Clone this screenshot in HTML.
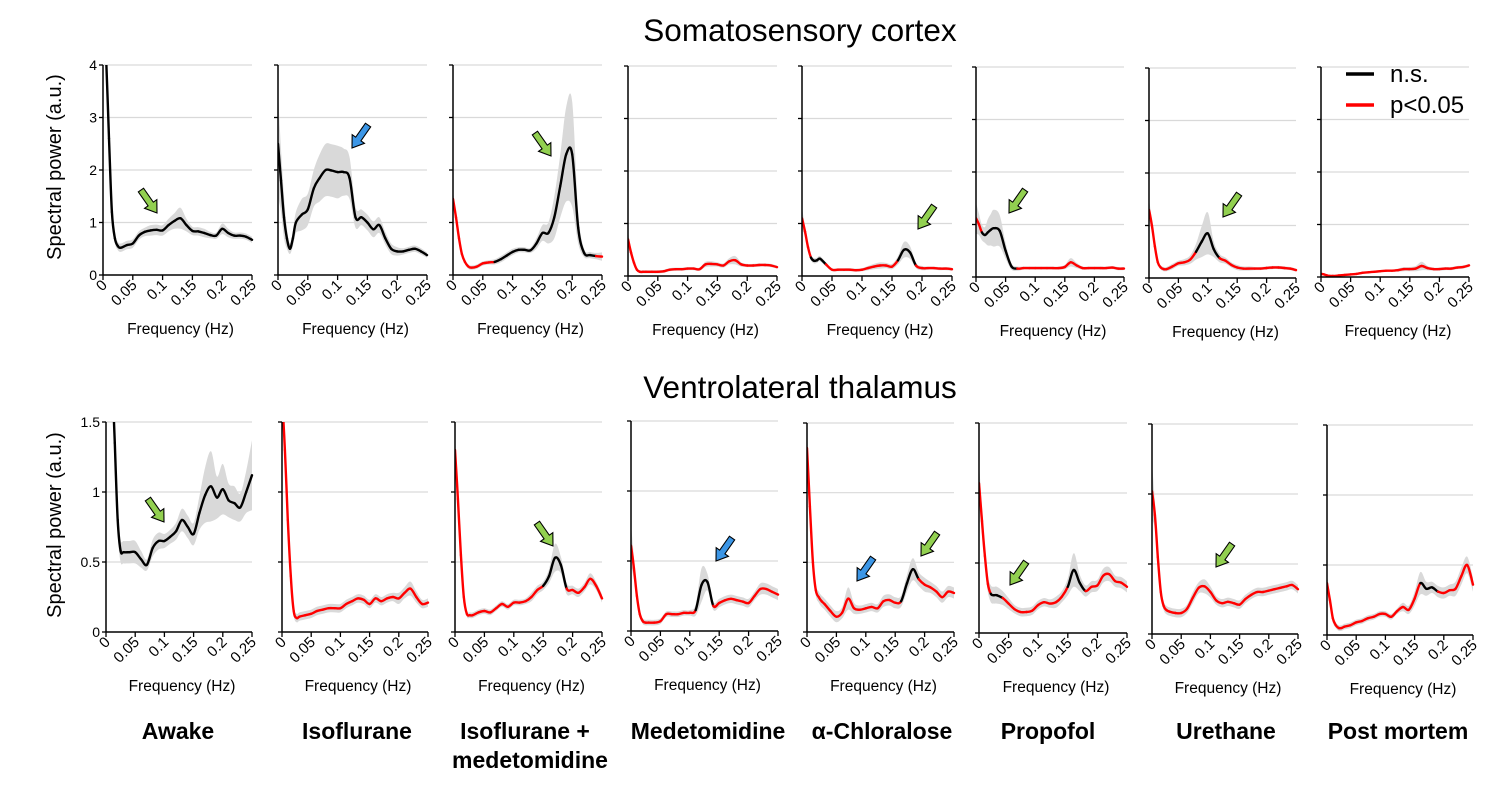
<!DOCTYPE html>
<html><head><meta charset="utf-8">
<style>
body{margin:0;background:#fff;}
svg{display:block;font-family:"Liberation Sans",sans-serif;}
</style></head>
<body>
<svg id="fig" width="1500" height="788" viewBox="0 0 1500 788" xmlns="http://www.w3.org/2000/svg">
<text x="800" y="41" font-size="31.5" text-anchor="middle">Somatosensory cortex</text>
<text x="800" y="398" font-size="31.5" text-anchor="middle">Ventrolateral thalamus</text>
<text transform="translate(61,167) rotate(-90)" font-size="20" text-anchor="middle">Spectral power (a.u.)</text>
<text transform="translate(61,525) rotate(-90)" font-size="20" text-anchor="middle">Spectral power (a.u.)</text>
<g>
<line x1="1346" y1="74" x2="1374" y2="74" stroke="#000" stroke-width="3.5"/>
<text x="1390" y="82" font-size="24">n.s.</text>
<line x1="1346" y1="105" x2="1374" y2="105" stroke="#f00" stroke-width="3.5"/>
<text x="1390" y="113" font-size="24">p&lt;0.05</text>
</g>
<g font-size="23" font-weight="bold" text-anchor="middle">
<text x="178" y="739">Awake</text>
<text x="357" y="739">Isoflurane</text>
<text x="525" y="739">Isoflurane +</text>
<text x="530" y="768">medetomidine</text>
<text x="708" y="739">Medetomidine</text>
<text x="882" y="739">α-Chloralose</text>
<text x="1048" y="739">Propofol</text>
<text x="1226" y="739">Urethane</text>
<text x="1398" y="739">Post mortem</text>
</g>
</svg>
<script>
const freq=[0,.005,.01,.015,.02,.025,.03,.04,.05,.06,.07,.08,.09,.1,.11,.12,.13,.14,.15,.16,.17,.18,.19,.2,.21,.22,.23,.24,.25];
const xTicks=[0,0.05,0.1,0.15,0.2,0.25];
const xTickLabels=["0","0.05","0.1","0.15","0.2","0.25"];
const topTicks=[0,1,2,3,4];
const topTickLabels=["0","1","2","3","4"];
const botTicks=[0,0.5,1,1.5];
const botTickLabels=["0","0.5","1","1.5"];
const conditions=["awake","isoflurane","iso-med","medetomidine","chloralose","propofol","urethane","post-mortem"];

// Somatosensory cortex (top row) mean spectra
const sAwake=[5,4.2,2.6,1.2,0.7,0.55,0.52,0.57,0.6,0.75,0.82,0.85,0.86,0.85,0.95,1.03,1.08,0.95,0.84,0.83,0.8,0.76,0.75,0.88,0.8,0.75,0.75,0.73,0.67];
const sIso=[2.5,1.8,1.1,0.7,0.5,0.7,1.0,1.15,1.25,1.65,1.85,2.0,1.99,1.96,1.96,1.85,1.1,1.1,1.0,0.87,0.95,0.7,0.5,0.45,0.45,0.48,0.5,0.45,0.38];
const sIsoMed=[1.45,1.1,0.7,0.4,0.25,0.17,0.14,0.16,0.22,0.24,0.25,0.3,0.37,0.44,0.48,0.48,0.47,0.6,0.8,0.8,1.1,1.7,2.3,2.3,0.9,0.42,0.38,0.36,0.35];
const sMed=[0.7,0.45,0.25,0.12,0.08,0.08,0.08,0.08,0.08,0.09,0.12,0.13,0.13,0.14,0.14,0.13,0.22,0.23,0.22,0.2,0.28,0.3,0.22,0.2,0.2,0.21,0.21,0.2,0.17];
const sChlor=[1.1,0.85,0.55,0.35,0.29,0.3,0.33,0.22,0.12,0.12,0.12,0.12,0.11,0.12,0.15,0.18,0.2,0.2,0.18,0.3,0.5,0.45,0.2,0.15,0.15,0.15,0.14,0.14,0.13];
const sProp=[1.12,1.0,0.85,0.8,0.85,0.9,0.93,0.88,0.5,0.2,0.16,0.17,0.17,0.17,0.17,0.17,0.17,0.17,0.19,0.28,0.22,0.17,0.17,0.17,0.17,0.17,0.18,0.16,0.16];
const sUre=[1.3,1.0,0.6,0.3,0.2,0.17,0.17,0.22,0.28,0.3,0.35,0.5,0.7,0.85,0.55,0.38,0.33,0.25,0.2,0.18,0.18,0.18,0.18,0.19,0.2,0.2,0.19,0.18,0.15];
const sPost=[0.06,0.05,0.03,0.02,0.02,0.02,0.03,0.04,0.05,0.06,0.08,0.09,0.1,0.11,0.12,0.12,0.13,0.15,0.15,0.16,0.21,0.17,0.15,0.15,0.16,0.16,0.18,0.19,0.22];
// Ventrolateral thalamus (bottom row) mean spectra
const tAwake=[3,2.5,1.9,1.35,0.8,0.58,0.57,0.57,0.57,0.52,0.48,0.6,0.65,0.65,0.68,0.72,0.8,0.75,0.7,0.85,0.98,1.04,0.96,1.02,0.94,0.92,0.89,1.0,1.12];
const tIso=[1.7,1.3,0.8,0.4,0.15,0.1,0.11,0.12,0.13,0.15,0.16,0.17,0.17,0.17,0.2,0.22,0.24,0.23,0.2,0.24,0.22,0.24,0.25,0.24,0.28,0.31,0.25,0.2,0.21];
const tIsoMed=[1.3,0.95,0.55,0.25,0.13,0.12,0.12,0.14,0.15,0.14,0.17,0.2,0.18,0.21,0.21,0.22,0.25,0.3,0.33,0.4,0.53,0.48,0.31,0.3,0.28,0.32,0.38,0.33,0.24];
const tMed=[0.61,0.45,0.25,0.12,0.07,0.06,0.06,0.06,0.07,0.12,0.12,0.12,0.13,0.13,0.15,0.33,0.35,0.18,0.2,0.22,0.23,0.22,0.21,0.2,0.25,0.3,0.3,0.28,0.26];
const tChlor=[1.32,0.9,0.5,0.3,0.25,0.22,0.2,0.15,0.11,0.14,0.24,0.17,0.16,0.17,0.18,0.17,0.22,0.23,0.21,0.22,0.35,0.45,0.38,0.34,0.32,0.29,0.25,0.29,0.28];
const tProp=[1.07,0.8,0.55,0.35,0.28,0.27,0.27,0.25,0.21,0.17,0.15,0.15,0.16,0.2,0.22,0.21,0.22,0.26,0.33,0.45,0.36,0.3,0.33,0.34,0.41,0.42,0.37,0.36,0.33];
const tUre=[1.02,0.85,0.55,0.3,0.2,0.17,0.16,0.15,0.15,0.18,0.26,0.33,0.34,0.3,0.24,0.22,0.23,0.22,0.21,0.25,0.28,0.3,0.3,0.31,0.32,0.33,0.34,0.35,0.32];
const tPost=[0.37,0.25,0.12,0.07,0.05,0.05,0.06,0.07,0.09,0.1,0.12,0.13,0.15,0.15,0.13,0.17,0.2,0.18,0.26,0.37,0.33,0.34,0.31,0.3,0.32,0.33,0.42,0.5,0.36];

// error band half-widths
const bS1=[.3,.3,.3,.2,.1,.08,.08,.08,.08,.08,.08,.1,.1,.1,.12,.15,.2,.12,.08,.08,.08,.06,.06,.1,.08,.06,.06,.06,.06];
const bS2=[1,.6,.4,.2,.1,.15,.2,.3,.3,.35,.45,.5,.5,.5,.45,.4,.2,.15,.15,.15,.15,.12,.1,.08,.06,.06,.06,.06,.05];
const bS3=[.15,.1,.08,.05,.04,.04,.04,.04,.04,.04,.05,.06,.06,.06,.05,.05,.05,.1,.15,.2,.4,.6,.9,1,.3,.08,.06,.06,.08];
const bS4=[.15,.08,.05,.03,.03,.03,.03,.03,.03,.03,.03,.03,.03,.03,.03,.03,.05,.05,.04,.04,.06,.08,.04,.03,.03,.03,.03,.03,.03];
const bS5=[.2,.1,.06,.05,.05,.05,.05,.04,.03,.03,.03,.03,.03,.03,.04,.05,.06,.05,.05,.08,.15,.12,.05,.04,.03,.03,.03,.03,.03];
const bS6=[.3,.2,.15,.15,.25,.3,.35,.3,.15,.06,.04,.03,.03,.03,.03,.03,.03,.03,.04,.08,.05,.03,.03,.03,.03,.03,.03,.03,.03];
const bS7=[.2,.12,.08,.05,.04,.04,.04,.05,.05,.06,.08,.15,.3,.4,.15,.08,.06,.05,.05,.04,.04,.03,.03,.03,.03,.03,.03,.03,.03];
const bS8=[.03,.02,.02,.02,.02,.02,.02,.02,.02,.02,.02,.02,.02,.02,.02,.02,.03,.04,.04,.05,.08,.04,.03,.03,.03,.03,.03,.03,.03];
const bT1=[.3,.3,.2,.15,.1,.08,.08,.08,.08,.06,.04,.06,.06,.05,.05,.06,.08,.08,.08,.12,.2,.25,.15,.18,.12,.12,.1,.15,.25];
const bT2=[.1,.08,.05,.03,.03,.03,.03,.03,.03,.03,.03,.03,.03,.03,.03,.03,.03,.03,.03,.03,.03,.03,.03,.04,.04,.05,.04,.03,.03];
const bT3=[.1,.06,.04,.02,.02,.02,.02,.02,.02,.02,.02,.02,.02,.02,.02,.02,.03,.03,.03,.05,.1,.06,.04,.03,.03,.03,.04,.03,.03];
const bT4=[.15,.08,.04,.02,.02,.02,.02,.02,.02,.02,.02,.02,.02,.02,.04,.12,.06,.03,.03,.03,.03,.03,.03,.03,.03,.04,.04,.04,.04];
const bT5=[.15,.08,.05,.04,.04,.04,.04,.04,.04,.04,.08,.04,.03,.03,.03,.03,.04,.04,.04,.04,.06,.08,.05,.05,.04,.04,.04,.04,.04];
const bT6=[.15,.1,.08,.06,.06,.06,.06,.05,.04,.03,.03,.03,.03,.03,.03,.03,.04,.04,.06,.12,.06,.04,.04,.04,.05,.05,.04,.04,.04];
const bT7=[.2,.1,.05,.04,.03,.03,.03,.03,.03,.03,.04,.04,.05,.04,.03,.03,.03,.03,.03,.03,.03,.03,.03,.03,.03,.03,.03,.03,.03];
const bT8=[.06,.04,.03,.02,.02,.02,.02,.02,.02,.02,.02,.02,.02,.02,.02,.02,.03,.03,.05,.08,.05,.04,.04,.04,.04,.05,.06,.06,.05];

// significance per point (1 = p<0.05 red, 0 = n.s. black)
const gS1=Array(29).fill(0);
const gS2=Array(29).fill(0);
const gS3=[1,1,1,1,1,1,1,1,1,1,1,0,0,0,1,0,0,0,0,0,0,0,0,0,0,0,0,1,1];
const gS4=Array(29).fill(1);
const gS5=[1,1,1,1,0,0,0,1,1,1,1,1,1,1,1,1,1,1,1,1,0,0,1,1,1,1,1,1,1];
const gS6=[1,1,1,0,0,0,0,0,0,0,1,1,1,1,1,1,1,1,1,1,1,1,1,1,1,1,1,1,1];
const gS7=[1,1,1,1,1,1,1,1,1,1,1,1,0,0,0,1,1,1,1,1,1,1,1,1,1,1,1,1,1];
const gS8=Array(29).fill(1);
const gT1=Array(29).fill(0);
const gT2=Array(29).fill(1);
const gT3=[1,1,1,1,1,1,1,1,1,1,1,1,1,1,1,1,1,1,1,0,0,0,1,1,1,1,1,1,1];
const gT4=[1,1,1,1,1,1,1,1,1,1,1,1,1,1,1,0,0,1,1,1,1,1,1,1,1,1,1,1,1];
const gT5=[1,1,1,1,1,1,1,1,1,1,1,1,1,1,1,1,1,1,1,1,0,0,1,1,1,1,1,1,1];
const gT6=[1,1,1,1,1,0,0,1,1,1,1,1,1,1,1,1,1,1,1,0,0,1,1,1,1,1,1,1,1];
const gT7=Array(29).fill(1);
const gT8=[1,1,1,1,1,1,1,1,1,1,1,1,1,1,1,1,1,1,1,1,0,0,1,1,1,1,1,1,1];

const NS="http://www.w3.org/2000/svg";
const svg=document.getElementById('fig');
function mk(tag,attrs,parent){const e=document.createElementNS(NS,tag);for(const k in attrs)e.setAttribute(k,attrs[k]);(parent||svg).appendChild(e);return e;}

const topRow={ymax:4,ticks:topTicks,labels:topTickLabels,grid:[1,2,3,4],
 panels:[[103,65,275,149],[278,65,275,149],[453,65,275,149],[628,66,276,149],[802,66,276,150],[976,67,277,148],[1149,68,278,147],[1321,67,277,148]],
 vals:[sAwake,sIso,sIsoMed,sMed,sChlor,sProp,sUre,sPost],bands:[bS1,bS2,bS3,bS4,bS5,bS6,bS7,bS8],sig:[gS1,gS2,gS3,gS4,gS5,gS6,gS7,gS8],name:'cortex'};
const botRow={ymax:1.5,ticks:botTicks,labels:botTickLabels,grid:[0.5,1,1.5],
 panels:[[106,422,632,146],[282,422,632,146],[455,422,632,147],[631,421,631,147],[807,423,632,147],[979,423,633,148],[1152,424,634,146],[1327,425,635,146]],
 vals:[tAwake,tIso,tIsoMed,tMed,tChlor,tProp,tUre,tPost],bands:[bT1,bT2,bT3,bT4,bT5,bT6,bT7,bT8],sig:[gT1,gT2,gT3,gT4,gT5,gT6,gT7,gT8],name:'thalamus'};

let clipId=0;
function catmull(pts,i){const p0=pts[Math.max(0,i-1)],p1=pts[i],p2=pts[i+1],p3=pts[Math.min(pts.length-1,i+2)];
 const c1=[p1[0]+(p2[0]-p0[0])/6,p1[1]+(p2[1]-p0[1])/6],c2=[p2[0]-(p3[0]-p1[0])/6,p2[1]-(p3[1]-p1[1])/6];
 return `C${c1[0].toFixed(1)},${c1[1].toFixed(1)} ${c2[0].toFixed(1)},${c2[1].toFixed(1)} ${p2[0].toFixed(1)},${p2[1].toFixed(1)}`;}
function smoothPath(pts){let d=`M${pts[0][0].toFixed(1)},${pts[0][1].toFixed(1)}`;for(let i=0;i<pts.length-1;i++)d+=catmull(pts,i);return d;}

function drawRow(row){
 row.panels.forEach((p,pi)=>{
  const [x0,yt,y0,w]=p;
  const xs=f=>x0+f/0.25*w;
  const ys=v=>y0-v/row.ymax*(y0-yt);
  const g=mk('g',{});
  
  
  row.grid.forEach(v=>{const l=mk('line',{x1:x0,x2:x0+w,y1:ys(v),y2:ys(v),stroke:'#d9d9d9','stroke-width':1.2},g);
   });
  const id='c'+(clipId++);
  const cp=mk('clipPath',{id:id},g);mk('rect',{x:x0,y:yt,width:w+2,height:y0-yt},cp);
  const vals=row.vals[pi],band=row.bands[pi],sig=row.sig[pi];
  const up=freq.map((f,i)=>[xs(f),ys(vals[i]+band[i])]);
  const lo=freq.map((f,i)=>[xs(f),ys(Math.max(0,vals[i]-band[i]))]).reverse();
  const lp=smoothPath(lo);
  let d=smoothPath(up)+' L'+lo[0][0]+','+lo[0][1]+lp.slice(lp.indexOf('C'))+'Z';
  const b=mk('path',{d:d,fill:'#d9d9d9','clip-path':`url(#${id})`},g);
  
  
  const pts=freq.map((f,i)=>[xs(f),ys(vals[i])]);
  for(let i=0;i<pts.length-1;i++){
   const red=sig[i]&&sig[i+1];
   const s=mk('path',{d:`M${pts[i][0].toFixed(1)},${pts[i][1].toFixed(1)}`+catmull(pts,i),fill:'none',stroke:red?'#f00':'#000','stroke-width':2.4,'stroke-linecap':'round','clip-path':`url(#${id})`},g);
   
   
  }
  const ya=mk('line',{x1:x0,x2:x0,y1:yt,y2:y0,stroke:'#000','stroke-width':1.5},g);
  
  
  const xa=mk('line',{x1:x0,x2:x0+w,y1:y0,y2:y0,stroke:'#000','stroke-width':1.5},g);
  
  
  row.ticks.forEach((v,ti)=>{mk('line',{x1:x0-4,x2:x0,y1:ys(v),y2:ys(v),stroke:'#000','stroke-width':1.3},g);
   if(pi===0){const t=mk('text',{x:x0-6,y:ys(v)+5,'font-size':14,'text-anchor':'end'},g);t.textContent=row.labels[ti];
    }});
  xTicks.forEach((f,ti)=>{mk('line',{x1:xs(f),x2:xs(f),y1:y0,y2:y0+5,stroke:'#000','stroke-width':1.3},g);
   const t=mk('text',{transform:`translate(${xs(f)+5},${y0+11}) rotate(-45)`,'font-size':15,'text-anchor':'end'},g);t.textContent=xTickLabels[ti];
   });
  const xt=mk('text',{x:x0+w/2+3,y:y0+59,'font-size':15.5,'text-anchor':'middle'},g);xt.textContent='Frequency  (Hz)';
  
  
 });
}
drawRow(topRow);drawRow(botRow);

// arrows: [tipX, tipY, direction(+1 down-right,-1 down-left), color]
const arrows=[[157,213,1,'#92d050'],[352,148,-1,'#3c96e6'],[551,156,1,'#92d050'],[918,229,-1,'#92d050'],[1009,213,-1,'#92d050'],[1223,217,-1,'#92d050'],
 [164,522,1,'#92d050'],[553,546,1,'#92d050'],[716,561,-1,'#3c96e6'],[857,581,-1,'#3c96e6'],[921,556,-1,'#92d050'],[1010,585,-1,'#92d050'],[1216,567,-1,'#92d050']];
arrows.forEach(a=>{
 const ang=a[2]>0?55:125;
 const g=mk('g',{transform:`translate(${a[0]},${a[1]}) rotate(${ang})`});
 
 
 mk('polygon',{points:'0,0 -11,-7.5 -11,-3.2 -28,-3.2 -28,3.2 -11,3.2 -11,7.5',fill:a[3],stroke:'#000','stroke-width':1.1,'stroke-linejoin':'miter'},g);
});
</script>
</body></html>
